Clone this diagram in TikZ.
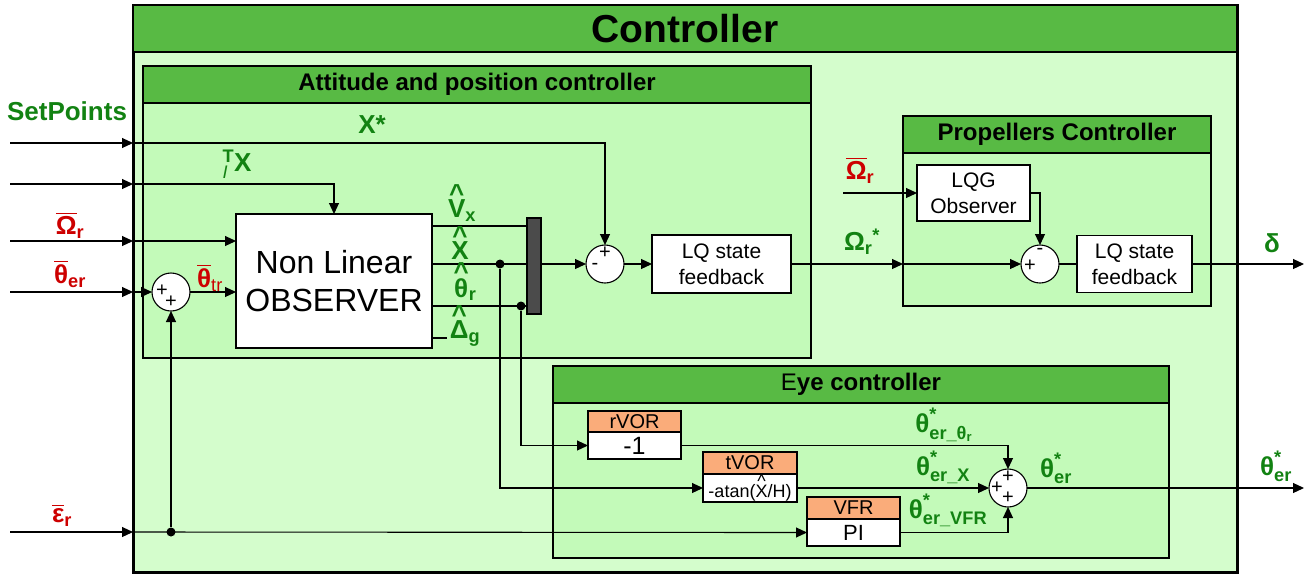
\documentclass[tikz,border=0pt]{standalone}
\usepackage{amsmath}
\usepackage{fontspec}
\setmainfont{Liberation Sans}
\usepackage{tikz}
\usetikzlibrary{positioning,arrows.meta}
\definecolor{ctrlbg}{RGB}{212,253,204}
\definecolor{subbg}{RGB}{195,250,185}
\definecolor{barbg}{RGB}{88,186,68}
\definecolor{hdrbg}{RGB}{250,172,122}
\definecolor{sgreen}{RGB}{18,130,18}
\definecolor{sred}{RGB}{205,0,0}
\definecolor{muxbg}{RGB}{75,75,75}
\newcommand{\fsz}[1]{\fontsize{#1}{#1}\selectfont}
\newcommand{\hatlbl}[1]{\leavevmode\vbox{\offinterlineskip\halign{\hfil##\hfil\cr\textasciicircum\cr\noalign{\kern-.1em}#1\cr}}}

\begin{document}
\begin{tikzpicture}[
  x=1pt, y=-1pt,
  line width=1.1pt,
  frame/.style={draw, line width=3pt, fill=ctrlbg, anchor=north west, inner sep=0, outer sep=0},
  panel/.style={draw, line width=2.4pt, fill=subbg, anchor=north west, inner sep=0, outer sep=0},
  titlebar/.style={draw, line width=2.4pt, fill=barbg, anchor=north west, inner sep=0, outer sep=0,
                   font=\bfseries\fsz{24}},
  blk/.style={draw, line width=1.4pt, fill=white, align=center, inner sep=0, outer sep=0,
              font=\fontsize{21}{26}\selectfont},
  hdr/.style={blk, fill=hdrbg, anchor=north west, font=\fsz{20}},
  sumj/.style={circle, draw, fill=white, minimum size=38pt, inner sep=0, outer sep=0},
  sgn/.style={inner sep=0, font=\fsz{20}},
  dot/.style={circle, fill, inner sep=0, minimum size=9pt},
  arr/.style={-{Triangle[length=11pt, width=10pt]}},
  sig/.style={text=sgreen, font=\bfseries\fsz{26}, inner sep=0},
  refsig/.style={sig, text=sred}
]
\useasboundingbox (0,0) rectangle (1306,574);
% ---- frames ----
\node[frame, minimum width=1104, minimum height=567] (ctrl) at (133,5) {};
\node[titlebar, minimum width=1104, minimum height=47, font=\bfseries\fsz{39}] (ctrlT) at (133,5) {Controller};
\node[panel, minimum width=668, minimum height=292] (att) at (143,66) {};
\node[titlebar, minimum width=668, minimum height=37] (attT) at (143,66) {Attitude and position controller};
\node[panel, minimum width=308, minimum height=190] (prop) at (903,116) {};
\node[titlebar, minimum width=308, minimum height=37] (propT) at (903,116) {Propellers Controller};
\node[panel, minimum width=616, minimum height=192] (eye) at (553,366) {};
\node[titlebar, minimum width=616, minimum height=37] (eyeT) at (553,366) {{\mdseries E}ye controller};

% ---- attitude and position blocks ----
\node[sumj] (sum1) at (171,292) {};
\node[sgn] (s1a) at ([shift={(-9,-1)}]sum1.center) {+};
\node[sgn] (s1b) at ([shift={(0,10)}]sum1.center) {+};
\node[blk, minimum width=196, minimum height=134, font=\fontsize{32}{38}\selectfont] (obs) at (334,281) {Non Linear\\OBSERVER};
\node[draw, fill=muxbg, minimum width=14, minimum height=96, inner sep=0, outer sep=0] (mux) at (534,266) {};
\node[sumj] (sum2) at (605,264) {};
\node[sgn] (s2a) at ([shift={(0,-11)}]sum2.center) {+};
\node[sgn] (s2b) at ([shift={(-10,2)}]sum2.center) {-};
\node[blk, minimum width=139, minimum height=58] (lq1) at (721.5,264) {LQ state\\feedback};

% ---- propellers blocks ----
\node[blk, minimum width=113, minimum height=56] (lqg) at (973.5,193) {LQG\\Observer};
\node[sumj] (sum3) at (1040,264) {};
\node[sgn] (s3a) at ([shift={(0,-13)}]sum3.center) {-};
\node[sgn] (s3b) at ([shift={(-10,2)}]sum3.center) {+};
\node[blk, minimum width=115, minimum height=57] (lq2) at (1134.5,264) {LQ state\\feedback};

% ---- eye blocks ----
\node[hdr, minimum width=93, minimum height=21] (rvorH) at (588,411) {rVOR};
\node[blk, minimum width=93, minimum height=27, below=0pt of rvorH, font=\fsz{25}] (rvorB) {-1};
\node[hdr, minimum width=94, minimum height=22] (tvorH) at (703,452) {tVOR};
\node[blk, minimum width=94, minimum height=28, below=0pt of tvorH, font=\fsz{18}] (tvorB) {-atan(\hatlbl{X}/H)};
\node[hdr, minimum width=93, minimum height=22] (vfrH) at (807,497) {VFR};
\node[blk, minimum width=93, minimum height=27, below=0pt of vfrH, font=\fsz{22}] (vfrB) {PI};
\node[sumj] (sum4) at (1008,488) {};
\node[sgn] (s4a) at ([shift={(0,-11)}]sum4.center) {+};
\node[sgn] (s4b) at ([shift={(-11,0)}]sum4.center) {+};
\node[sgn] (s4c) at ([shift={(0,10)}]sum4.center) {+};

% ---- free ends ----
\coordinate (in1) at (10,143);
\coordinate (in2) at (10,184);
\coordinate (in3) at (10,241);
\coordinate (in4) at (10,292);
\coordinate (inE) at (10,532);
\coordinate (inP) at (843,193);
\coordinate (outD) at (1304,264);
\coordinate (outT) at (1304,488);
\coordinate (oVx) at (432,226);
\coordinate (oX) at (432,264);
\coordinate (oTh) at (432,306);
\coordinate (oDg) at (432,338);
\coordinate (eDg) at (447,338);

% ---- set points ----
\draw[arr] (in1) -- (in1 -| ctrl.west);
\draw[arr] (in1 -| ctrl.west) -| (sum2.north);
\draw[arr] (in2) -- (in2 -| ctrl.west);
\draw[arr] (in2 -| ctrl.west) -| (obs.north);
\draw[arr] (in3) -- (in3 -| ctrl.west);
\draw[arr] (in3 -| ctrl.west) -- (in3 -| obs.west);
\draw[arr] (in4) -- (in4 -| ctrl.west);
\draw[arr] (in4 -| ctrl.west) -- (sum1.west);
\draw[arr] (inE) -- (inE -| ctrl.west);
\draw[arr] (inE -| ctrl.west) -- (vfrB.west);
\node[dot] (dE) at (sum1 |- inE) {};
\draw[arr] (dE) -- (sum1.south);
\draw[arr] (sum1.east) -- (sum1.east -| obs.west);

% ---- observer outputs ----
\draw (oVx) -- (oVx -| mux.west);
\draw (oX) -- (oX -| mux.west);
\draw (oTh) -- (oTh -| mux.west);
\draw (oDg) -- (eDg);
\node[dot] (dX) at (500,264) {};
\node[dot] (dTh) at (521,306) {};
\draw[arr] (dX) |- (tvorB.west);
\draw[arr] (dTh) |- (rvorB.west);
\draw[arr] (mux.east |- sum2) -- (sum2.west);
\draw[arr] (sum2.east) -- (lq1.west);

% ---- propellers ----
\draw[arr] (lq1.east) -- (lq1.east -| prop.west);
\draw[arr] (lq1.east -| prop.west) -- (sum3.west);
\draw[arr] (inP) -- (lqg.west);
\draw[arr] (lqg.east) -| (sum3.north);
\draw (sum3.east) -- (lq2.west);
\draw[arr] (lq2.east) -- (outD);

% ---- eye ----
\draw[arr] (rvorB.east) -| (sum4.north);
\draw[arr] (tvorB.east) -- (sum4.west);
\draw[arr] (vfrB.east) -| (sum4.south);
\draw[arr] (sum4.east) -- (outT);

% ---- labels ----
\node[sig] (lSP) at (67,111) {SetPoints};
\node[sig] (lXs) at (372,125) {X*};
\node[sig] (lTIX) at (237,164) {${}^{\text{T}}_{\text{\mdseries\itshape I}}$X};
\node[refsig] (lOr) at (70,225) {$\overline{\text{Ω}}_{\text{r}}$};
\node[refsig] (lTer) at (70,274) {$\overline{\text{θ}}_{\text{er}}$};
\node[refsig] (lTtr) at (210,278) {$\overline{\text{θ}}_{\text{\mdseries tr}}$};
\node[refsig] (lEr) at (62,515) {$\overline{\text{ε}}_{\text{r}}$};
\node[sig] (lVx) at (462,203) {$\text{\hatlbl{V}}_{\text{x}}$};
\node[sig] (lX) at (460,243) {\hatlbl{X}};
\node[sig] (lTr) at (465,282) {$\text{\hatlbl{θ}}_{\text{r}}$};
\node[sig] (lDg) at (465,326) {$\text{\hatlbl{Δ}}_{\text{g}}$};
\node[refsig] (lOp) at (860,170) {$\overline{\text{Ω}}_{\text{r}}$};
\node[sig] (lOs) at (862,242) {$\text{Ω}_{\text{r}}{}^{\text{*}}$};
\node[sig] (lD) at (1272,243) {δ};
\node[sig] (lE1) at (944,425) {$\text{θ}^{\text{*}}_{\text{er\_θ}_{\text{r}}}$};
\node[sig] (lE2) at (943,467) {$\text{θ}^{\text{*}}_{\text{er\_X}}$};
\node[sig] (lE3) at (948,510) {$\text{θ}^{\text{*}}_{\text{er\_VFR}}$};
\node[sig] (lE4) at (1056,468) {$\text{θ}^{\text{*}}_{\text{er}}$};
\node[sig] (lE5) at (1276,466) {$\text{θ}^{\text{*}}_{\text{er}}$};
\end{tikzpicture}
\end{document}
